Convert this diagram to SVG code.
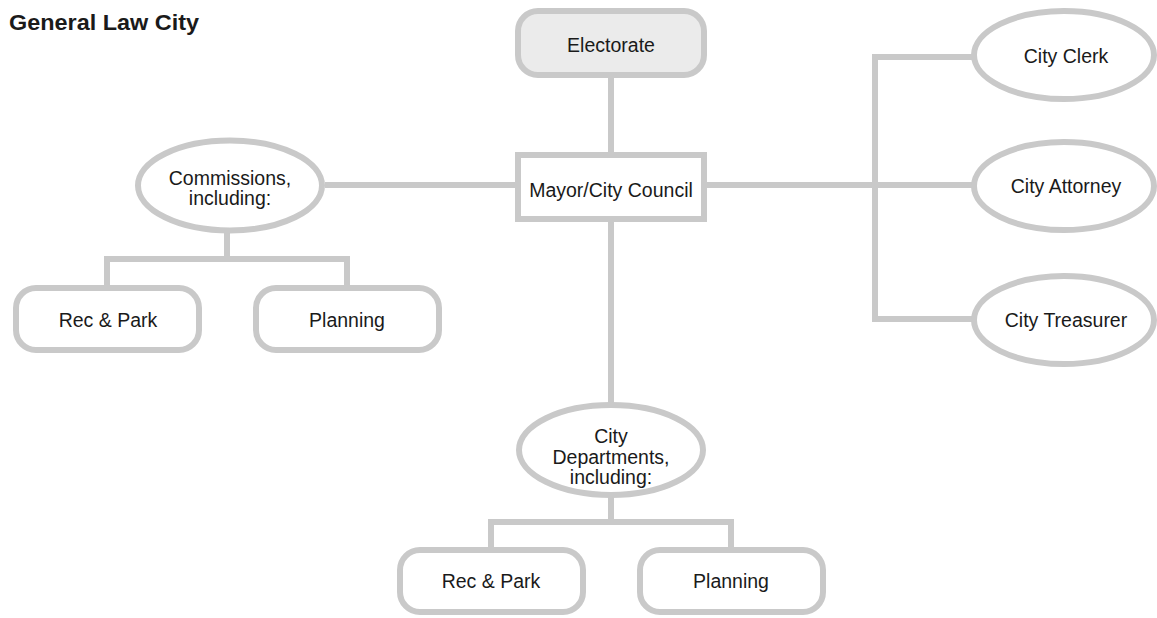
<svg xmlns="http://www.w3.org/2000/svg" width="1157" height="618" viewBox="0 0 1157 618">
<style>
.shape{fill:#ffffff;stroke:#c9c9c9;stroke-width:6}
.grey{fill:#ebebeb}
.lbl{font-family:"Liberation Sans",Arial,sans-serif;font-size:19.5px;fill:#1a1a1a;text-anchor:middle}
.title{font-family:"Liberation Sans",Arial,sans-serif;font-size:22px;font-weight:bold;fill:#1a1a1a}
#connectors path{fill:none;stroke:#c9c9c9;stroke-width:6}
</style>
<rect width="1157" height="618" fill="#ffffff"/>
<text class="title" x="9" y="30" textLength="190" lengthAdjust="spacingAndGlyphs">General Law City</text>
<g id="connectors">
<path d="M611,75 V155"/>
<path d="M325,185 H518"/>
<path d="M704,185 H975"/>
<path d="M975,57 H875 V319 H975"/>
<path d="M227,230 V259 M107,288 V259 H347 V288"/>
<path d="M611,219 V405"/>
<path d="M611,495 V522 M491,550 V522 H731 V550"/>
</g>
<g id="electorate"><rect class="shape grey" x="518" y="11" width="186" height="64" rx="20"/><text class="lbl" x="611" y="52">Electorate</text></g>
<g id="mayor"><rect class="shape" x="518" y="155" width="186" height="64"/><text class="lbl" x="611" y="197">Mayor/City Council</text></g>
<g id="commissions"><ellipse class="shape" cx="230" cy="185.5" rx="92" ry="45"/><text class="lbl" x="230" y="185">Commissions,</text><text class="lbl" x="230" y="205">including:</text></g>
<g id="comm-rec"><rect class="shape" x="16" y="288" width="183" height="62" rx="20"/><text class="lbl" x="108" y="327">Rec &amp; Park</text></g>
<g id="comm-planning"><rect class="shape" x="256" y="288" width="183" height="62" rx="20"/><text class="lbl" x="347" y="327">Planning</text></g>
<g id="clerk"><ellipse class="shape" cx="1064" cy="55" rx="90" ry="44"/><text class="lbl" x="1066" y="63">City Clerk</text></g>
<g id="attorney"><ellipse class="shape" cx="1064" cy="186" rx="90" ry="44"/><text class="lbl" x="1066" y="193">City Attorney</text></g>
<g id="treasurer"><ellipse class="shape" cx="1064" cy="320" rx="90" ry="44"/><text class="lbl" x="1066" y="327">City Treasurer</text></g>
<g id="departments"><ellipse class="shape" cx="611" cy="450" rx="92" ry="45"/><text class="lbl" x="611" y="443">City</text><text class="lbl" x="611" y="464">Departments,</text><text class="lbl" x="611" y="484">including:</text></g>
<g id="dept-rec"><rect class="shape" x="400" y="550" width="183" height="62" rx="20"/><text class="lbl" x="491" y="588">Rec &amp; Park</text></g>
<g id="dept-planning"><rect class="shape" x="640" y="550" width="183" height="62" rx="20"/><text class="lbl" x="731" y="588">Planning</text></g>
</svg>
